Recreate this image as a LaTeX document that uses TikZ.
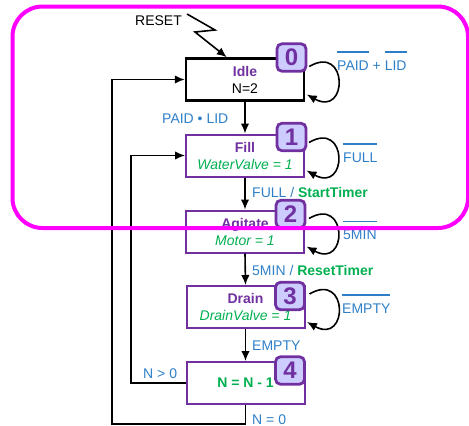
\documentclass[tikz,border=0pt]{standalone}
\usepackage{fontspec}
\setmainfont{Liberation Sans}
\usetikzlibrary{arrows.meta,calc}
\definecolor{purp}{HTML}{7030A0}
\definecolor{grn}{HTML}{00B050}
\definecolor{blu}{HTML}{2F7FC8}
\definecolor{lav}{HTML}{CCCCFF}
\definecolor{mag}{HTML}{FF00FF}
\newcommand\obar[1]{\vbox{\hrule height 1.8pt\kern 7.5pt\hbox{#1}}}
\begin{document}
\begin{tikzpicture}[x=1pt,y=-1pt,font=\fontsize{14}{17}\selectfont,
  state/.style={draw=purp,line width=2pt,minimum width=118pt,minimum height=42pt,inner sep=0pt,fill=white,align=center},
  badge/.style={draw=purp,fill=lav,line width=2.8pt,rounded corners=5pt,minimum width=29pt,minimum height=27.5pt,inner sep=0pt,text=purp,font=\fontsize{24}{24}\selectfont\bfseries},
  arr/.style={line width=1.6pt,-{Latex[length=10pt,width=8.5pt]}},
  lbl/.style={text=blu,inner sep=0pt,anchor=base west},
  act/.style={text=grn}]
\useasboundingbox (0,0) rectangle (469,426);

% states
\node[state,draw=black,line width=2.5pt] (s0) at (245,79.5) {\textcolor{purp}{\bfseries Idle}\\N=2};
\node[state] (s1) at (245,155.5) {\textcolor{purp}{\bfseries Fill}\\\textcolor{grn}{\itshape WaterValve = 1}};
\node[state] (s2) at (245,231.5) {\textcolor{purp}{\bfseries Agitate}\\\textcolor{grn}{\itshape Motor = 1}};
\node[state] (s3) at (245.5,307) {\textcolor{purp}{\bfseries Drain}\\\textcolor{grn}{\itshape DrainValve = 1}};
\node[state] (s4) at (245.5,383) {\textcolor{grn}{\bfseries N = N - 1}};

% main vertical transitions
\draw[arr] (s0.south) -- (s1.north);
\draw[arr] (s1.south) -- (s2.north);
\draw[arr] (s2.south) -- (s3.north);
\draw[arr] (s3.south) -- (s4.north);

% return paths
\coordinate (c1) at (112,424);
\coordinate (c2) at (131,300);
\draw[arr] (s4.south) |- (c1) |- (s0.west);
\draw[arr] (s4.west) -| (c2) |- (s1.west);

% reset
\node[inner sep=0pt,anchor=base west] (rst) at (135,25) {RESET};
\coordinate (r1) at (187,14);
\coordinate (r2) at (215,30);
\coordinate (r3) at (195,32);
\draw[arr] (r1) -- (r2) -- (r3) -- ($(s0.north west)+(42,0)$);

% self loops
\foreach \s in {s0,s1,s2,s3}{
  \draw[arr] ($(\s.east)+(4,-13)$) .. controls ($(\s.east)+(43,-36)$) and ($(\s.east)+(43,38)$) .. ($(\s.east)+(1.5,15)$);
}

% badges
\node[badge] (b0) at (291.5,57.5) {0};
\node[badge] (b1) at (291.5,137) {1};
\node[badge] (b2) at (290.5,214) {2};
\node[badge] (b3) at (290,296) {3};
\node[badge] (b4) at (290,370.5) {4};

% loop labels
\node[lbl] (l0) at (337,70) {\obar{PAID} + \obar{LID}};
\node[lbl] (l1) at (343,162) {\obar{FULL}};
\node[lbl] (l2) at (343,239.5) {\obar{5MIN}};
\node[lbl] (l3) at (342,313) {\obar{EMPTY}};

% edge labels
\node[lbl] (e0) at (162,123) {PAID • LID};
\node[lbl] (e1) at (252,197.5) {FULL / \textcolor{grn}{\bfseries StartTimer}};
\node[lbl] (e2) at (252,275) {5MIN / \textcolor{grn}{\bfseries ResetTimer}};
\node[lbl] (e3) at (252,350) {EMPTY};
\node[lbl] (e4) at (143,378) {N > 0};
\node[lbl] (e5) at (252,424.5) {N = 0};

% highlight
\draw[mag,line width=4pt,rounded corners=30pt] (12.5,6.5) rectangle (468,228);
\end{tikzpicture}
\end{document}
